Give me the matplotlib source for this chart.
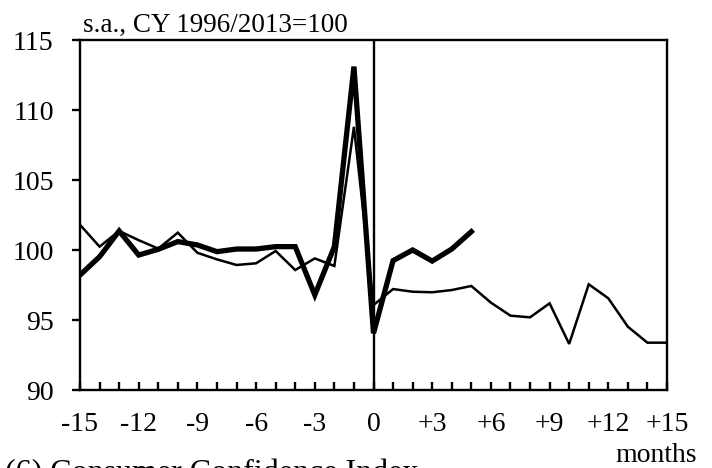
import matplotlib
matplotlib.use("Agg")
import matplotlib.pyplot as plt

months = list(range(-15, 16))
thin_series = [101.8, 100.24, 101.36, 100.7, 100.1, 101.24, 99.8, 99.33, 98.93, 99.05,
               99.93, 98.57, 99.4, 98.86, 108.8, 96.07, 97.21, 97.02, 96.98, 97.14,
               97.43, 96.24, 95.31, 95.19, 96.19, 93.29, 97.55, 96.55, 94.52, 93.38, 93.38]
thick_months = list(range(-15, 6))
thick_series = [98.21, 99.52, 101.36, 99.64, 100.05, 100.6, 100.36, 99.88, 100.07, 100.07,
                100.24, 100.24, 96.79, 100.24, 113.1, 94.05, 99.24, 100.0, 99.21, 100.07, 101.31]
yticks = [90, 95, 100, 105, 110, 115]
xtick_labels = {-15: "-15", -12: "-12", -9: "-9", -6: "-6", -3: "-3", 0: "0",
                3: "+3", 6: "+6", 9: "+9", 12: "+12", 15: "+15"}

plt.rcParams['font.family'] = ['Liberation Serif', 'DejaVu Serif']

W, H = 712, 468
fig = plt.figure(figsize=(W / 100, H / 100), dpi=100)
left, right, top, bottom = 80, 667, 40, 390
ax = fig.add_axes([left / W, 1 - bottom / H, (right - left) / W, (bottom - top) / H])

ax.plot(months, thin_series, color='black', lw=1.8, solid_joinstyle='miter')
ax.plot(thick_months, thick_series, color='black', lw=3.8, solid_joinstyle='miter')
ax.axvline(0, color='black', lw=1.7)

ax.set_xlim(-15, 15)
ax.set_ylim(90, 115)
ax.set_yticks(yticks)
ax.set_yticklabels([str(v) for v in yticks])
ax.set_xticks(months)
ax.set_xticklabels([xtick_labels.get(m, "") for m in months])

for s in ax.spines.values():
    s.set_linewidth(1.7)
ax.tick_params(axis='y', direction='out', length=6, width=1.7, pad=13, labelsize=20)
ax.tick_params(axis='x', direction='in', length=6, width=1.7, pad=16, labelsize=20)

fig.text(83 / W, 1 - 32 / H, "s.a., CY 1996/2013=100", fontsize=19.5,
         ha='left', va='baseline')
fig.text(697 / W, 1 - 462 / H, "months", fontsize=20, ha='right', va='baseline')
fig.text(5 / W, 1 - 459 / H, "(6) Consumer Confidence Index", fontsize=23,
         ha='left', va='top')

fig.savefig("out.png", dpi=100)
